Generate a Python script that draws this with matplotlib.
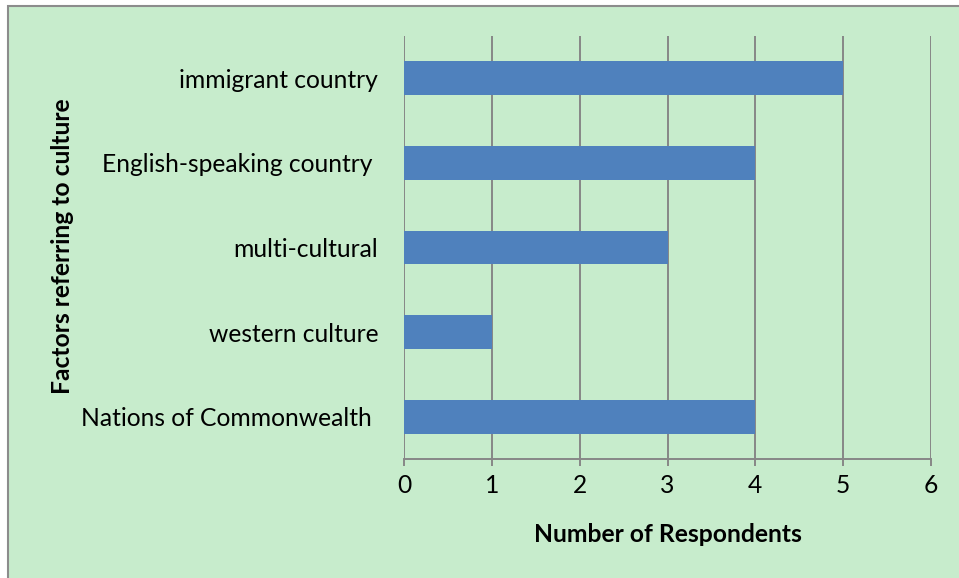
import matplotlib.pyplot as plt
from matplotlib.patches import Rectangle

categories = ['immigrant country', 'English-speaking country ', 'multi-cultural',
              'western culture', 'Nations of Commonwealth ']
respondents = [5, 4, 3, 1, 4]
x_ticks = [0, 1, 2, 3, 4, 5, 6]

bg = '#C7ECCC'
grid_c = '#878787'
fs = 17.7
plt.rcParams['font.family'] = ['Lato', 'DejaVu Sans']

fig = plt.figure(figsize=(9.59, 5.78), dpi=100)
fig.patch.set_facecolor('white')
# chart area with gray frame (cut off on right and bottom)
fig.patches.append(Rectangle((8, -20), 1000, 578 - 6 + 20, transform=None,
                             facecolor=bg, edgecolor='#8c8c8c', linewidth=1.5, zorder=-1))

ax = fig.add_axes([404 / 959, 1 - 459 / 578, (931 - 404) / 959, (459 - 36) / 578])
ax.set_facecolor('none')
pos = list(range(len(categories)))
ax.barh(pos, respondents, height=0.40, color='#4F81BD', zorder=3)
ax.set_ylim(len(categories) - 0.5, -0.5)
ax.set_xlim(0, 6)
ax.set_xticks(x_ticks)
ax.set_yticks(pos)
ax.set_yticklabels(categories)
ax.tick_params(axis='y', length=0, pad=18.5, labelsize=fs)
ax.tick_params(axis='x', length=5, width=1.4, color=grid_c, pad=6, labelsize=fs, direction='out')
ax.grid(axis='x', color=grid_c, linewidth=1.4, zorder=1)
for s in ['top', 'right', 'left']:
    ax.spines[s].set_visible(False)
ax.spines['bottom'].set_color(grid_c)
ax.spines['bottom'].set_linewidth(1.4)

fig.text(668 / 959, 1 - 534 / 578, 'Number of Respondents', ha='center', va='center',
         fontsize=fs, fontweight='bold')
fig.text(62 / 959, 1 - 246 / 578, 'Factors referring to culture', ha='center', va='center',
         rotation=90, fontsize=fs, fontweight='bold')

fig.savefig('out.png', dpi=100)
